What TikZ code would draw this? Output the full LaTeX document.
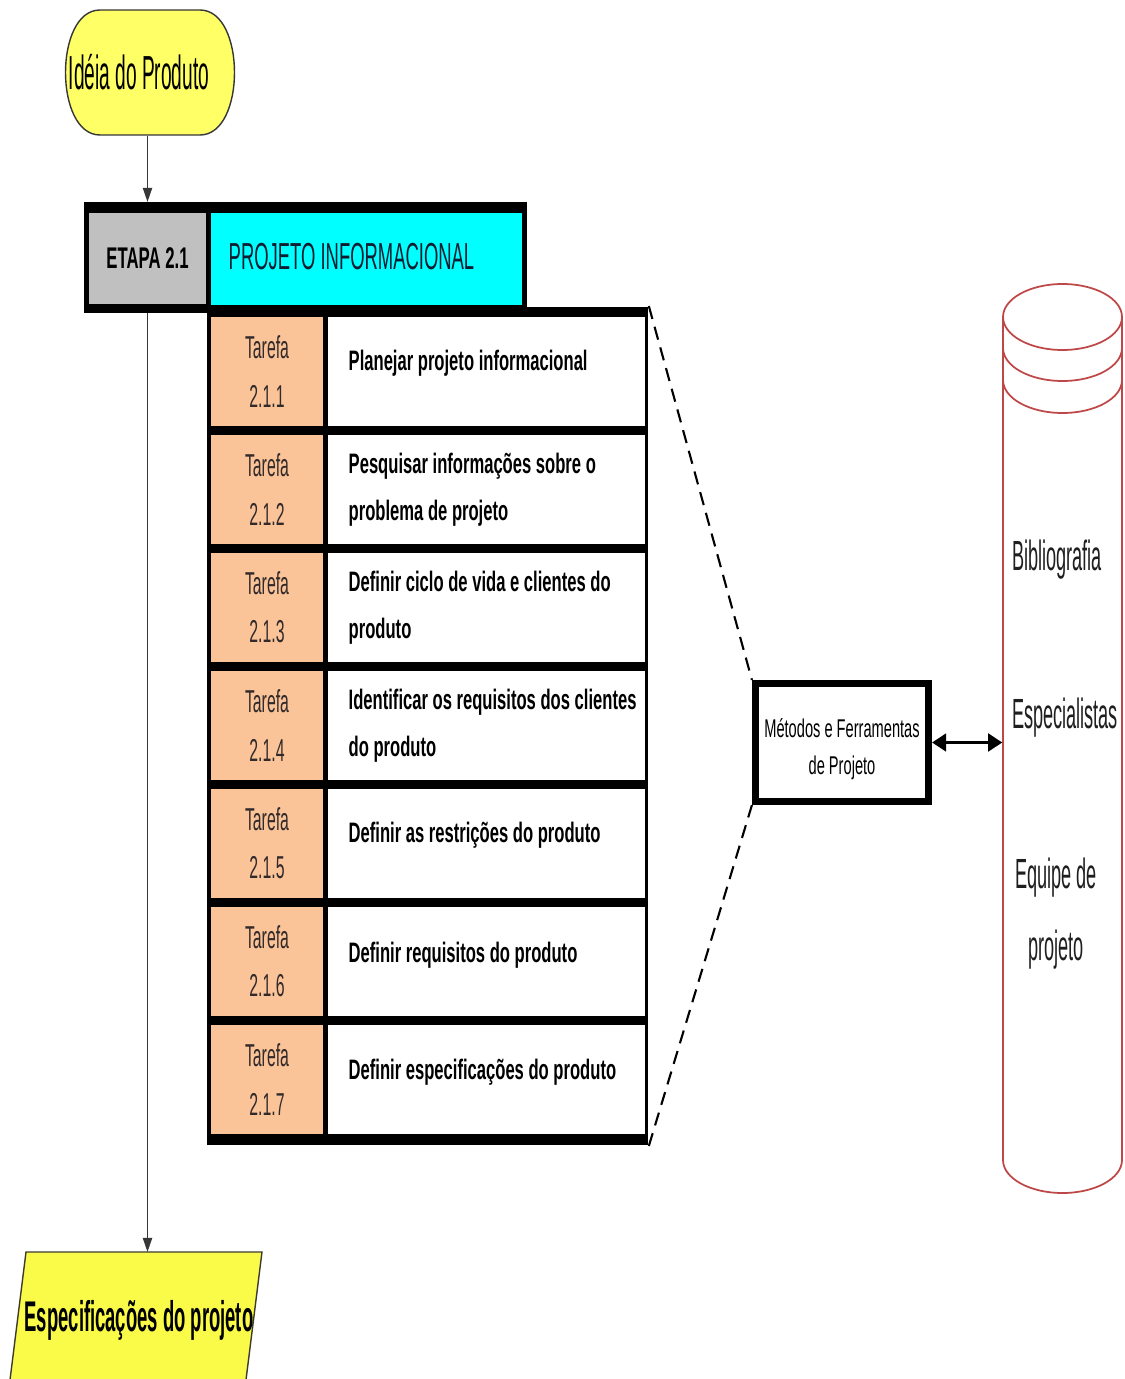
\documentclass[tikz,border=0pt]{standalone}
\usepackage{fontspec}
\setmainfont{Liberation Sans}
% condensed cuts of the same sans family
\newfontfamily\fIdea[FakeStretch=0.40]{Liberation Sans}
\newfontfamily\fCyl[FakeStretch=0.43]{Liberation Sans}
\newfontfamily\fSpec[FakeStretch=0.43]{Liberation Sans}
\newfontfamily\fTar[FakeStretch=0.50]{Liberation Sans}
\newfontfamily\fProj[FakeStretch=0.49]{Liberation Sans}
\newfontfamily\fEtapa[FakeStretch=0.56]{Liberation Sans}
\newfontfamily\fTask[FakeStretch=0.59]{Liberation Sans}
\newfontfamily\fMet[FakeStretch=0.57]{Liberation Sans}
\usetikzlibrary{arrows.meta}

\definecolor{ideayellow}{RGB}{255,255,102}
\definecolor{specyellow}{RGB}{250,250,72}
\definecolor{etapagray}{RGB}{192,192,192}
\definecolor{projcyan}{RGB}{0,255,255}
\definecolor{peach}{RGB}{250,196,152}
\definecolor{cylred}{RGB}{190,72,72}
\definecolor{flowline}{RGB}{55,55,55}
\definecolor{projtext}{RGB}{18,28,48}
\definecolor{tartext}{RGB}{50,42,42}

\begin{document}
\begin{tikzpicture}[x=0.01cm,y=-0.01cm,
  flow/.style={draw=flowline, line width=0.45pt, -{Triangle[length=4pt,width=2.6pt]}},
  dashline/.style={draw=black, line width=0.6pt, dash pattern=on 3.8pt off 2.3pt},
  dblarrow/.style={draw=black, line width=0.85pt, {Triangle[length=4pt,width=5pt]}-{Triangle[length=4pt,width=5pt]}},
  cyl/.style={draw=cylred, line width=0.5pt},
  tarcell/.style={fill=peach, minimum width=1.12cm, minimum height=1.09cm, inner sep=0pt,
    align=center, text=tartext, font=\fTar\fontsize{9}{13.7}\selectfont},
  desccell/.style={fill=white, minimum width=3.17cm, minimum height=1.09cm, inner sep=0pt},
  desctext/.style={anchor=west, align=left, inner sep=0pt, font=\fTask\bfseries\fontsize{8}{13.4}\selectfont},
  cyltext/.style={align=center, inner sep=0pt, text=black!88, font=\fCyl\fontsize{12}{20.5}\selectfont}
]
\useasboundingbox (0,0) rectangle (1124,1379);
\clip (0,0) rectangle (1124,1379);

% start terminal
\path[fill=ideayellow, draw=flowline, line width=0.4pt]
  (100,10) -- (200,10) .. controls (246,10) and (246,135) .. (200,135)
  -- (100,135) .. controls (54,135) and (54,10) .. (100,10) -- cycle;
\node[minimum width=1.7cm, minimum height=1.25cm, inner sep=0pt] (idea) at (150,72.5) {};
\node[inner sep=0pt, font=\fIdea\fontsize{13.6}{15}\selectfont] (ideatxt) at (139,72) {Idéia do Produto};

% stage header
\fill[black] (84,202) rectangle (208,313);
\fill[black] (206,202) rectangle (527,310);
\node[fill=etapagray, minimum width=1.17cm, minimum height=0.91cm, inner sep=0pt,
  font=\fEtapa\bfseries\fontsize{8.5}{10}\selectfont] (etp) at (147.5,258.5) {ETAPA 2.1};
\node[fill=projcyan, minimum width=3.11cm, minimum height=0.92cm, inner sep=0pt] (proj) at (366.5,259) {};
\node[anchor=west, inner sep=0pt, text=projtext, font=\fProj\fontsize{10.7}{12}\selectfont] (projtxt) at (228,257) {PROJETO INFORMACIONAL};

% task table
\node[fill=black, minimum width=4.41cm, minimum height=8.38cm, inner sep=0pt] (tbl) at (427.5,726) {};
\foreach \n/\off/\txt in {
  1/-8/{Planejar projeto informacional},
  2/0/{Pesquisar informações sobre o\\problema de projeto},
  3/0/{Definir ciclo de vida e clientes do\\produto},
  4/0/{Identificar os requisitos dos clientes\\do produto},
  5/-8/{Definir as restrições do produto},
  6/-6/{Definir requisitos do produto},
  7/-7/{Definir especificações do produto}}
{
  \pgfmathsetmacro\c{253.5+118*\n}
  \node[tarcell] (t\n) at (267,\c) {Tarefa\\2.1.\n};
  \node[desccell] (d\n) at (486.5,\c) {};
  \node[desctext] (dt\n) at (348,\c+\off) {\txt};
}

% methods and tools
\node[draw=black, line width=2pt, fill=white, minimum width=1.73cm, minimum height=1.18cm,
  inner sep=0pt] (met) at (842,742.5) {};
\node[inner sep=0pt, align=center, font=\fMet\fontsize{7.3}{10.5}\selectfont] (mettxt)
  at (842,749) {Métodos e Ferramentas\\de Projeto};

% knowledge base cylinder
\node[minimum width=1.19cm, minimum height=9.09cm, inner sep=0pt] (db) at (1062.5,738.5) {};
\draw[cyl] (1062.5,317) ellipse [x radius=59.5, y radius=33];
\draw[cyl] (1003,348) arc[start angle=180, end angle=0, x radius=59.5, y radius=33];
\draw[cyl] (1003,380) arc[start angle=180, end angle=0, x radius=59.5, y radius=33];
\draw[cyl] (1003,317) -- (1003,1160) arc[start angle=180, end angle=0, x radius=59.5, y radius=33] -- (1122,317);
\node[cyltext] (bib) at (1057,560) {Bibliografia};
\node[cyltext] (esp) at (1065,718) {Especialistas};
\node[cyltext] (eqp) at (1056,914) {Equipe de\\projeto};

% output data
\path[fill=specyellow] (26,1252) -- (262,1252) -- (246,1380) -- (10,1380) -- cycle;
\draw[draw=black!75!olive, line width=0.4pt] (10,1380) -- (26,1252) -- (262,1252) -- (246,1380);
\coordinate (spectop) at (142,1252);
\node[inner sep=0pt, font=\fSpec\bfseries\fontsize{12.2}{14}\selectfont] (spec) at (139,1320) {Especificações do projeto};

% connectors
\draw[flow] (idea.south -| etp.north) -- (etp.north |- 0,202);
\draw[flow] (etp.south |- 0,313) -- (etp.south |- spectop);
\draw[dashline] (tbl.north east) -- (met.north west);
\draw[dashline] (tbl.south east) -- (met.south west);
\draw[dblarrow] (met.east) -- (met.east -| db.west);
\end{tikzpicture}
\end{document}
